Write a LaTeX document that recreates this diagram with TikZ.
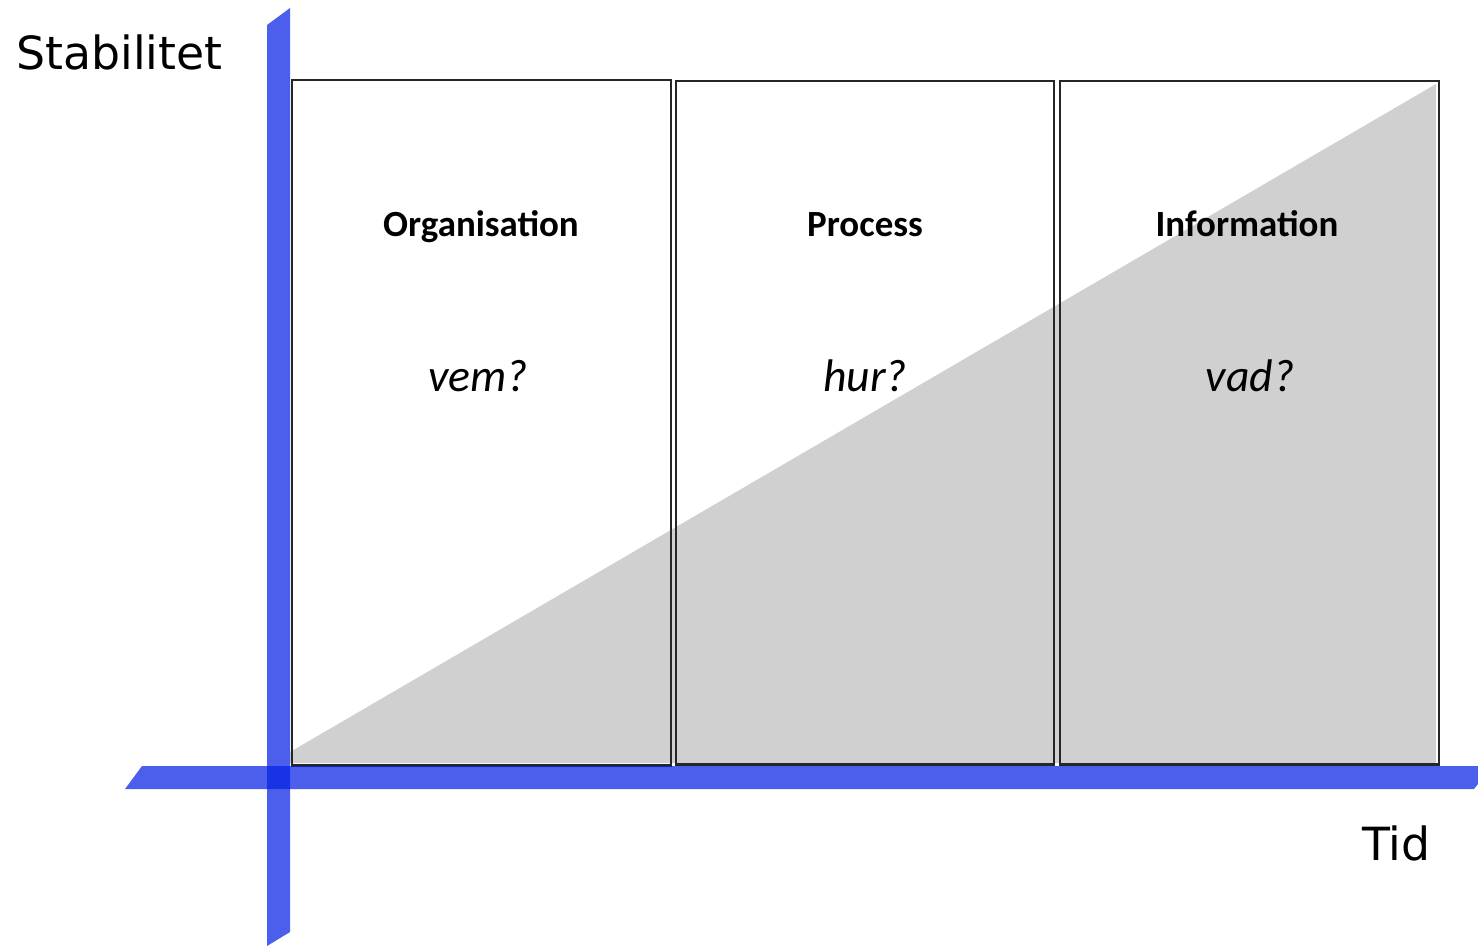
\documentclass[tikz,border=0pt]{standalone}
\usepackage{fontspec}
\setmainfont{Carlito}
\newfontfamily\axisfont{DejaVu Sans}
\definecolor{axisblue}{RGB}{6,33,228}
\definecolor{wedgegrey}{RGB}{208,208,208}
\tikzset{
  axisbar/.style={fill=axisblue, fill opacity=0.72, draw=none},
  column/.style={draw=black!85, line width=0.6pt, inner sep=0pt, anchor=north west},
  head/.style={font=\fontsize{10.5}{12}\selectfont\bfseries, anchor=base},
  ask/.style={font=\fontsize{13}{15}\selectfont\itshape, anchor=base},
  axislabel/.style={font=\axisfont\fontsize{13}{15}\selectfont}
}
\begin{document}
\begin{tikzpicture}[x=0.01cm, y=-0.01cm]
\useasboundingbox (0,0) rectangle (1478,947);
% grey wedge behind the columns
\fill[wedgegrey] (290,752) -- (1436,84) -- (1436,763) -- (290,763) -- cycle;
% columns
\node[column, minimum width=3.79cm, minimum height=6.85cm] (org) at (291,79) {};
\node[column, minimum width=3.78cm, minimum height=6.83cm] (proc) at (675,80) {};
\node[column, minimum width=3.79cm, minimum height=6.83cm] (info) at (1059,80) {};
\node[head] (orghead) at (481,236) {Organisation};
\node[head] (prochead) at (865,236) {Process};
\node[head] (infohead) at (1247,236) {Information};
\node[ask] (vem) at (478,391) {vem?};
\node[ask] (hur) at (865,391) {hur?};
\node[ask] (vad) at (1250,391) {vad?};
% axes
\path[axisbar] (267,25) -- (290,8) -- (290,932) -- (267,946) -- cycle;
\path[axisbar] (142,766) -- (1478,766) -- (1478,784) -- (1474,789) -- (125,789) -- cycle;
\node[axislabel, anchor=west] (stab) at (4,52) {Stabilitet};
\node[axislabel, anchor=east] (tid) at (1443,843) {Tid};
\end{tikzpicture}
\end{document}
